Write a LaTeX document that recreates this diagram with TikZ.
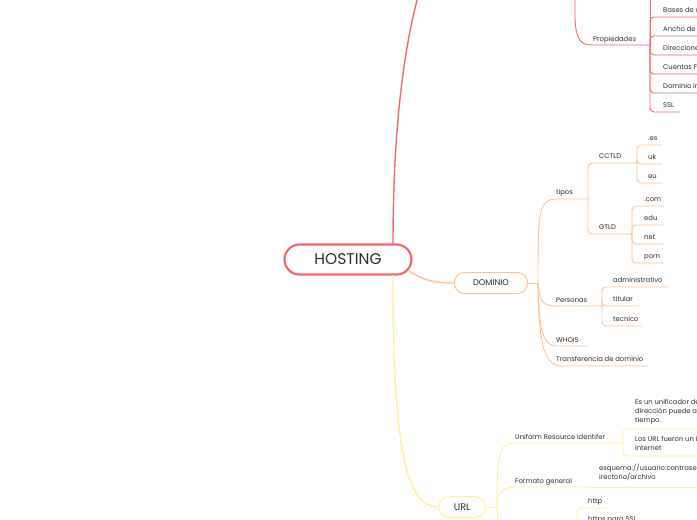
\documentclass[tikz,border=0pt]{standalone}
\usepackage{fontspec}
\setmainfont{Poppins}
\definecolor{cred}{HTML}{F26B6B}
\definecolor{corg}{HTML}{FFC196}
\definecolor{cyel}{HTML}{FFF09A}
\definecolor{txt}{HTML}{2E2E2E}
\begin{document}
\begin{tikzpicture}[x=1pt,y=-1pt,
  lbl/.style={font=\fontsize{6.8}{9}\selectfont, text=txt, inner sep=0pt, anchor=base west},
  mlbl/.style={font=\fontsize{6.8}{9}\selectfont, text=txt, inner sep=0pt, anchor=north west, align=left},
  rmain/.style={draw=cred, line width=1.4pt},
  rsub/.style={draw=cred, line width=0.9pt, rounded corners=4pt},
  omain/.style={draw=corg, line width=1.4pt},
  osub/.style={draw=corg, line width=0.9pt, rounded corners=4pt},
  ymain/.style={draw=cyel, line width=1.4pt},
  ysub/.style={draw=cyel, line width=0.9pt, rounded corners=4pt},
  topic/.style={rounded corners=#1, fill=white, text=txt, inner sep=0pt}
]
\useasboundingbox (0,0) rectangle (697,520);
\clip (0,0) rectangle (697,520);
\fill[white] (0,0) rectangle (697,520);

% ---------------- red branch ----------------
\coordinate (hup) at (393,244);
\coordinate (topA) at (426,-30);
\draw[rmain] (hup) .. controls (393,140) and (402,40) .. (topA);

\coordinate (topB) at (575,-10);
\coordinate (pj) at (650,45);
\draw[rsub, rounded corners=0pt] (topB) -- (575,18) .. controls (576,40) and (580,45) .. (593,45) -- (pj);
\node[lbl] (prop) at (593,41) {Propiedades};
\draw[rsub] (pj) -- (650,-10);
\foreach \i/\yy/\ee/\tt in {1/17/700/Bases de datos, 2/36/700/Ancho de banda, 3/55/700/Direcciones de correo, 4/74/700/Cuentas FTP, 5/93/700/Dominio incluido, 6/112/680/SSL}{
  \coordinate (pe\i) at (\ee,\yy);
  \node[lbl] (pl\i) at (663,\yy-4.5) {\tt};
  \draw[rsub] (pj) |- (pe\i);
}

% ---------------- HOSTING ----------------
\node[topic=15pt, draw=cred, line width=2.2pt, minimum width=127pt, minimum height=30pt,
      font=\fontsize{15.5}{17}\selectfont] (host) at (348,259.5) {HOSTING};

% ---------------- orange branch ----------------
\coordinate (hd) at (409,271);
\node[topic=10pt, draw=corg, line width=1pt, minimum width=73pt, minimum height=21pt,
      font=\fontsize{8.3}{10}\selectfont] (dom) at (491,283) {DOMINIO};
\draw[omain] (hd) .. controls (424,281) and (436,283) .. (dom.west);
\coordinate (dj) at (538,283);
\draw[osub] (dom.east) -- (dj);

% tipos
\coordinate (tj) at (588,199);
\draw[osub, rounded corners=0pt] (dj) .. controls (538,215) and (538,199) .. (556,199) -- (tj);
\node[lbl] (tipos) at (556,194.5) {tipos};
\coordinate (ccj) at (637,163);
\coordinate (gtj) at (632,234);
\draw[osub] (tj) |- (ccj);
\draw[osub] (tj) |- (gtj);
\node[lbl] (cctld) at (599,158.5) {CCTLD};
\node[lbl] (gtld) at (599,229.5) {GTLD};
\foreach \i/\yy/\tt in {1/145/.es, 2/164/uk, 3/183/eu}{
  \coordinate (ce\i) at (662,\yy);
  \node[lbl] (cl\i) at (648,\yy-4.5) {\tt};
  \draw[osub] (ccj) |- (ce\i);
}
\foreach \i/\yy/\tt in {1/206/.com, 2/225/edu, 3/244/net, 4/263/porn}{
  \coordinate (ge\i) at (664,\yy);
  \node[lbl] (gl\i) at (644,\yy-4.5) {\tt};
  \draw[osub] (gtj) |- (ge\i);
}

% Personas
\coordinate (psj) at (602,306);
\draw[osub, rounded corners=0pt] (dj) .. controls (539,295) and (540,306) .. (554,306) -- (psj);
\node[lbl] (pers) at (556,302) {Personas};
\foreach \i/\yy/\ee/\tt in {1/287/668/administrativo, 2/306/639/titular, 3/326/642/tecnico}{
  \coordinate (pse\i) at (\ee,\yy);
  \node[lbl] (psl\i) at (613,\yy-4.5) {\tt};
  \draw[osub] (psj) |- (pse\i);
}
% WHOIS
\coordinate (whe) at (587,346);
\draw[osub, rounded corners=0pt] (dj) .. controls (539,320) and (540,346) .. (557,346) -- (whe);
\node[lbl] (whois) at (556,342) {WHOIS};
% Transferencia
\coordinate (tre) at (648,366);
\draw[osub, rounded corners=0pt] (dj) .. controls (539,335) and (541,366) .. (562,366) -- (tre);
\node[lbl] (transf) at (556,361.5) {Transferencia de dominio};

% ---------------- yellow branch ----------------
\coordinate (hdown) at (393,275);
\node[topic=10pt, draw=cyel, line width=1pt, minimum width=46pt, minimum height=21pt,
      font=\fontsize{9.6}{11}\selectfont] (url) at (462,507) {URL};
\draw[ymain] (hdown) .. controls (393,440) and (404,507) .. (url.west);
\coordinate (uj) at (497,507);
\draw[ysub] (url.east) -- (uj);

% URI
\coordinate (urj) at (623,443);
\draw[ysub, rounded corners=0pt] (uj) .. controls (497,458) and (498,443) .. (514,443) -- (urj);
\node[lbl] (uri) at (515,439) {Uniform Resource Identifer};
\coordinate (ure1) at (700,429);
\coordinate (ure2) at (700,456);
\draw[ysub] (urj) |- (ure1);
\draw[ysub] (urj) |- (ure2);
\node[mlbl] (urt1) at (635,399.5) {Es un unificador de recursos cuya\\dirección puede aparecer o cambiar con el\\tiempo.};
\node[mlbl] (urt2) at (635,436.5) {Los URL fueron un invento de la\\internet};

% Formato general
\coordinate (fj) at (590,487);
\coordinate (fe) at (700,487);
\draw[ysub, rounded corners=0pt] (uj) .. controls (497,498) and (499,487) .. (514,487) -- (fj);
\node[lbl] (fmt) at (515,483) {Formato general};
\draw[ysub] (fj) -- (fe);
\node[mlbl] (esq) at (599,463.5) {esquema://usuario:contraseña@host:puerto/d\\irectorio/archivo};

% third (off-page) child
\coordinate (ubot) at (497,530);
\draw[ysub] (uj) -- (ubot);
\coordinate (hj) at (577,530);
\coordinate (he) at (607,508);
\draw[ysub] (hj) |- (he);
\node[lbl] (http) at (588,503) {http};
\node[lbl] (https) at (588,521.5) {https para SSL};
\end{tikzpicture}
\end{document}
